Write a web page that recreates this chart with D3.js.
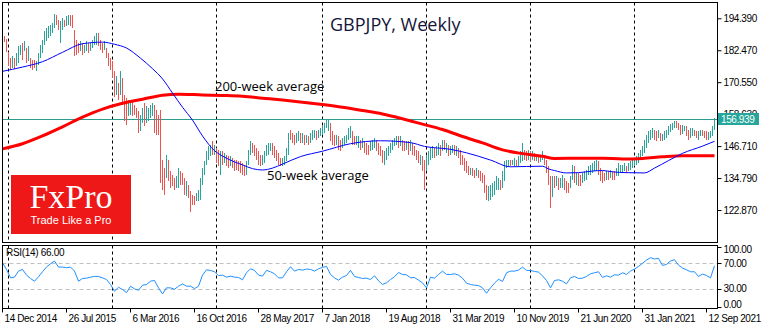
<!DOCTYPE html>
<html><head><meta charset="utf-8">
<script src="https://cdn.jsdelivr.net/npm/d3@7"></script>
<style>
html,body{margin:0;padding:0;background:#fff;}
svg{display:block;}
</style></head>
<body>
<svg id="c" width="770" height="330"></svg>
<script>
// ---------------- DATA ----------------
const title = "GBPJPY, Weekly";
const xLabels = ["14 Dec 2014","26 Jul 2015","6 Mar 2016","16 Oct 2016","28 May 2017","7 Jan 2018",
  "19 Aug 2018","31 Mar 2019","10 Nov 2019","21 Jun 2020","31 Jan 2021","12 Sep 2021"];
const xLabelIdx = [0,32,64,96,128,160,192,224,256,288,320,352];   // week index of each label
const yearStartIdx = [3,55,107,160,212,264,316];                    // first week of 2015..2021
const priceTicks = [194.390,182.470,170.550,158.630,146.710,134.790,122.870];
const rsiTicks = [100,70,30,0];
const rsiLevels = [70,30];
const lastPrice = 156.939;
const lastRsi = 66.00;

// weekly bars, one per week starting 14 Dec 2014
const high = [
 188.8,187.9,186.5,182.0,179.6,180.2,179.6,181.4,183.9,184.5,
 185.2,185.8,183.3,183.9,179.6,178.9,178.9,178.3,181.4,184.5,
 186.4,189.5,190.8,191.4,192.0,192.6,196.0,195.7,193.9,193.3,
 194.5,193.9,195.1,195.5,195.5,195.5,190.0,186.4,185.2,185.8,
 185.2,184.5,185.8,185.2,185.2,186.4,187.7,188.9,188.9,186.4,
 185.2,185.8,183.3,181.4,179.6,178.3,174.6,172.7,170.2,174.6,
 172.1,165.9,164.6,164.0,163.4,163.4,162.2,160.9,159.7,158.4,
 160.9,162.8,161.5,160.9,162.2,162.8,162.2,160.3,158.4,160.3,
 141.6,138.5,143.5,141.6,137.3,136.0,134.8,135.4,138.5,137.3,
 136.7,134.8,133.6,132.3,130.0,128.6,128.0,129.2,130.4,134.8,
 138.5,141.0,144.7,146.6,147.2,148.5,147.2,146.0,145.4,144.7,
 144.7,144.1,143.5,142.9,142.9,142.3,141.6,141.6,141.0,141.0,
 140.4,139.8,141.0,145.4,148.5,147.8,147.2,146.0,144.7,143.5,
 143.5,144.7,147.2,147.8,147.8,147.8,146.6,145.4,144.1,142.3,
 142.3,142.9,146.0,151.6,152.8,151.6,150.9,151.6,152.2,151.6,
 151.6,150.9,150.9,150.3,151.6,152.8,152.8,152.2,152.8,153.5,
 154.1,155.3,156.6,156.6,155.3,152.2,150.9,150.9,150.3,149.1,
 149.7,150.3,150.9,153.5,154.1,152.2,150.3,150.3,150.3,149.1,
 149.7,148.5,147.8,147.2,148.5,149.1,149.7,149.1,147.8,146.6,
 145.4,144.7,146.0,146.6,147.8,149.1,149.7,150.3,150.3,150.3,
 149.1,148.5,148.5,148.5,149.1,147.8,146.6,145.4,144.7,143.5,
 142.9,141.6,143.5,144.7,146.0,146.6,146.0,146.6,147.8,147.2,
 149.1,149.1,147.8,147.2,146.6,147.2,147.2,146.6,146.0,145.4,
 143.5,142.3,141.0,139.2,138.5,138.5,137.9,138.5,137.9,137.3,
 136.7,136.0,132.3,131.7,132.3,132.9,133.6,135.4,134.8,134.2,
 137.3,141.0,141.6,141.6,141.6,141.6,142.3,141.6,142.9,144.7,
 147.8,145.4,144.7,145.4,144.7,144.7,144.1,143.5,142.9,143.5,
 144.7,143.5,141.6,139.2,135.4,135.4,135.4,135.4,134.8,134.8,
 136.0,134.8,133.6,132.9,135.4,139.8,139.2,136.7,136.7,136.0,
 136.7,137.3,137.9,139.2,139.8,140.4,141.0,141.6,141.0,138.5,
 137.3,136.7,137.3,137.3,137.9,137.3,137.3,138.5,140.4,139.8,
 139.8,140.4,139.2,140.4,141.0,141.6,142.3,142.9,144.1,145.4,
 146.6,149.1,150.9,152.2,152.8,153.5,152.8,152.2,152.8,151.6,
 151.2,152.2,152.8,154.1,154.9,155.3,156.2,155.9,155.3,154.7,
 154.7,154.1,154.1,152.8,153.5,153.5,152.8,152.5,152.5,152.8,
 152.8,152.5,152.2,152.0,152.5,154.1,157.2];
const low = [
 185.6,185.6,181.8,176.5,175.2,175.8,175.5,176.5,177.7,180.8,
 179.0,182.1,177.7,178.3,175.8,175.2,175.8,174.8,177.1,179.6,
 181.4,184.5,185.8,187.0,187.7,188.9,190.8,192.0,190.1,185.2,
 190.1,191.0,191.4,192.0,191.4,190.8,180.2,180.8,181.4,182.1,
 180.8,181.4,182.1,181.4,182.1,183.3,184.5,184.5,183.9,182.7,
 181.4,182.7,179.6,176.5,175.2,172.1,165.0,165.9,164.0,165.9,
 162.2,155.9,154.7,157.8,158.4,157.8,158.4,157.2,151.6,152.2,
 155.3,154.1,155.3,155.9,157.2,157.8,151.6,150.9,150.9,132.9,
 130.4,128.6,134.8,133.6,131.1,131.7,130.4,131.1,131.1,132.3,
 132.3,128.6,128.0,127.3,122.0,124.9,124.9,126.1,126.1,126.7,
 132.3,136.0,139.8,141.6,142.9,143.5,143.5,140.4,139.2,136.0,
 139.8,140.4,139.2,138.5,139.2,138.5,137.3,137.9,137.3,136.7,
 136.0,135.4,136.0,139.8,143.5,144.1,142.9,141.6,139.8,139.2,
 139.8,140.4,142.9,143.5,144.7,143.5,142.3,141.0,139.8,139.2,
 139.2,139.8,141.0,143.5,149.1,147.8,147.2,147.8,148.5,147.8,
 147.8,147.2,147.8,147.2,147.8,149.1,149.7,149.1,149.7,150.3,
 150.9,151.6,153.5,152.2,148.5,147.2,146.6,147.2,145.4,144.7,
 146.0,147.2,147.8,149.1,149.7,147.2,147.2,147.2,146.0,145.4,
 146.0,144.1,143.5,143.5,144.7,145.4,146.0,144.7,143.5,142.9,
 140.4,139.8,141.6,142.9,144.1,145.4,146.6,147.2,146.0,146.6,
 144.7,144.7,145.4,143.5,144.7,143.5,142.9,141.6,140.4,139.8,
 137.3,130.4,137.3,139.8,141.6,142.3,142.3,142.9,143.5,142.9,
 144.7,145.4,144.1,142.9,143.5,144.1,143.5,142.9,142.3,139.8,
 139.8,137.3,136.7,136.0,136.0,135.4,134.8,135.4,134.8,133.6,
 132.9,129.2,126.7,126.3,126.7,127.9,128.6,130.4,130.4,130.4,
 131.1,133.6,138.5,139.2,139.2,139.8,139.2,139.2,139.2,140.4,
 141.0,141.6,141.0,141.6,141.0,141.6,141.0,141.0,140.4,140.8,
 141.6,139.8,136.7,132.3,123.6,127.9,131.1,131.7,130.4,131.1,
 131.1,130.4,129.2,129.2,131.1,134.2,132.9,132.3,131.7,131.7,
 132.9,133.6,134.2,136.0,136.0,136.7,137.3,137.3,136.0,133.6,
 132.9,133.6,134.2,134.2,134.8,134.2,134.2,135.4,135.4,136.7,
 136.7,137.3,136.7,137.3,137.9,138.5,139.2,139.8,140.4,141.6,
 142.9,144.1,146.0,147.8,149.1,149.7,149.1,148.5,149.7,148.5,
 148.5,149.1,149.7,150.9,151.9,152.8,153.5,153.5,152.8,150.9,
 151.2,152.2,150.3,149.1,149.7,150.3,150.3,149.7,149.1,150.3,
 150.3,149.7,149.1,149.1,149.7,150.3,152.8];
// u = up week (close above open), d = down week
const barDir = ("udddduduuu dududdduuu uuuuuuuddu uduudddddu duuduuuudd dudddddudu ddduuddddu uduuuudddd " +
  "ddudddduud ddudddduuu uuuuududdu dudduddddd dduuuddddd uuuuuddddd uuuuddduud ududuuuduu " +
  "uuuudddudd uuuuudduud uddduuuddd duuuuuuudu ddududdddu dduuuuduud ududuududd dddduddudd " +
  "ddduuuuuud uuuuduuduu uddudududu uddddududu uddduududd uuuuuuuudd ddududduuu uuduuuuuuu " +
  "uuuuuuddud uuuuuuuddd uudduudduu ddduuuu").replace(/ /g,"");

// 50-week moving average (week index, value)
const ma50Idx = [0,10,20,30,40,50,56,62,69,75,80,85,90,95,100,106,110,116,120,125,130,135,140,149,160,174,
  189,204,211,224,232,244,254,262,270,273,276,282,288,295,300,305,312,321,326,333,340,350,356];
const ma50 = [174.6,176.2,178.2,181.7,184.9,185.5,184.7,183.3,179.5,175.6,171.8,166.5,161.2,156.4,150.5,145.0,
  143.0,140.8,139.7,138.3,137.8,138.5,140.0,142.8,144.8,147.6,148.7,148.0,146.6,145.5,144.2,141.5,139.0,139.1,
  139.2,138.2,137.6,136.7,136.8,137.4,137.6,137.1,136.8,136.7,138.5,141.3,144.0,146.7,148.5];
// 200-week moving average
const ma200Idx = [0,10,20,30,40,50,60,70,80,88,100,110,120,130,140,150,160,170,180,190,200,210,220,230,240,
  250,260,270,276,290,300,310,320,330,340,356];
const ma200 = [145.7,147.6,150.5,153.9,157.5,160.5,162.7,164.2,165.7,166.1,165.8,165.6,165.3,164.6,163.9,163.1,
  162.2,161.2,160.0,158.7,156.9,154.9,152.9,150.3,147.9,145.3,143.9,142.9,142.1,142.2,142.2,141.9,142.1,142.7,
  143.1,143.1];
// RSI(14), one reading every second week
const rsi = [
 70.9,60.4,47.1,48.2,57.7,60.4,51.4,46.1,41.8,48.8,
 56.7,64.1,69.3,73.6,64.1,64.1,63.0,64.1,57.7,41.8,
 46.1,46.6,48.2,49.3,49.3,47.1,44.5,36.6,26.0,32.3,
 28.6,23.8,33.9,29.7,27.5,35.5,36.6,41.8,42.9,31.3,
 21.7,31.3,31.3,29.1,33.9,37.6,33.9,33.9,30.2,33.9,
 51.4,59.8,58.8,56.7,50.8,51.4,48.2,49.8,48.2,47.7,
 44.0,55.1,61.4,58.8,51.4,49.8,58.8,56.7,53.5,47.1,
 47.1,56.7,64.6,57.7,60.4,59.3,60.9,60.4,57.7,61.4,
 63.5,65.1,52.4,47.1,43.4,48.2,50.8,58.8,49.3,47.7,
 46.1,46.6,44.5,50.3,42.4,36.6,39.2,44.5,48.8,55.6,
 52.4,51.9,47.1,47.7,43.4,39.2,31.3,48.2,46.6,52.4,
 57.7,52.4,52.4,53.5,51.4,46.6,38.7,36.6,35.5,35.0,
 31.3,22.8,31.3,38.7,45.0,41.3,55.1,57.7,57.7,59.3,
 64.1,58.8,58.8,57.2,56.1,50.3,42.9,31.3,42.9,44.0,
 41.8,37.6,47.1,49.3,46.1,46.6,49.3,53.5,55.1,56.7,
 47.7,50.3,48.2,51.9,51.4,55.1,52.4,57.7,60.9,65.1,
 69.9,75.2,78.9,76.8,77.8,66.7,68.3,73.6,75.7,67.2,
 62.5,59.8,56.7,56.7,49.3,53.0,50.8,47.1,66.0];

// ---------------- DRAW ----------------
const svg = d3.select("#c");
const upCol = "#26a69a", dnCol = "#ef5350";
const P = {l:2.5, r:717.5, t:2.5, b:242.5, rt:245.5, rb:308.5};

const x = d3.scaleLinear().domain([0, 356]).range([2, 714]);
const y = d3.scaleLinear().domain([122.87, 194.39]).range([210, 18.3]);
const yr = d3.scaleLinear().domain([0, 100]).range([307.7, 244.3]);
const px = i => Math.round(x(i)) + 0.5;

svg.append("rect").attr("width",770).attr("height",330).attr("fill","#fff");

const defs = svg.append("defs");
defs.append("clipPath").attr("id","cm").append("rect")
  .attr("x",P.l+0.5).attr("y",P.t+0.5).attr("width",P.r-P.l-1).attr("height",P.b-P.t-1);
defs.append("clipPath").attr("id","cr").append("rect")
  .attr("x",P.l+0.5).attr("y",P.rt+0.5).attr("width",P.r-P.l-1).attr("height",P.rb-P.rt-1);

const gm = svg.append("g").attr("clip-path","url(#cm)");
const gr = svg.append("g").attr("clip-path","url(#cr)");

// year separators
yearStartIdx.forEach(i => {
  [[gm,P.t,P.b],[gr,P.rt,P.rb]].forEach(([g,a,b]) => {
    g.append("line").attr("x1",px(i)).attr("x2",px(i)).attr("y1",a).attr("y2",b)
      .attr("stroke","#000").attr("stroke-width",1).attr("stroke-dasharray","3,3");
  });
});

// title
gm.append("text").attr("x",330).attr("y",31).text(title)
  .attr("font-family","'Open Sans', sans-serif").attr("font-size",18).attr("fill","#15153a");

// current price line
gm.append("line").attr("x1",P.l).attr("x2",P.r)
  .attr("y1",Math.round(y(lastPrice))+0.5).attr("y2",Math.round(y(lastPrice))+0.5)
  .attr("stroke","#2a9d8f").attr("stroke-width",1);

// bars
const bars = d3.range(high.length).map(i => ({i, h:high[i], l:low[i], up:(barDir[i]||"u")==="u"}));
gm.append("g").selectAll("line").data(bars).join("line")
  .attr("x1",d=>px(d.i)).attr("x2",d=>px(d.i))
  .attr("y1",d=>y(d.h)).attr("y2",d=>y(d.l))
  .attr("stroke",d=>d.up?upCol:dnCol).attr("stroke-width",1).attr("shape-rendering","crispEdges");

// moving averages
const lineGen = d3.line().x(d=>x(d[0])+0.5).y(d=>y(d[1])).curve(d3.curveMonotoneX);
gm.append("path").datum(ma200Idx.map((d,k)=>[d,ma200[k]])).attr("d",lineGen)
  .attr("fill","none").attr("stroke","#ff0000").attr("stroke-width",3);
gm.append("path").datum(ma50Idx.map((d,k)=>[d,ma50[k]])).attr("d",lineGen)
  .attr("fill","none").attr("stroke","#0000ff").attr("stroke-width",1);

// annotations
gm.append("text").attr("x",215).attr("y",91).text("200-week average")
  .attr("font-family","'Open Sans', sans-serif").attr("font-size",13).attr("fill","#000");
gm.append("text").attr("x",267).attr("y",180).text("50-week average")
  .attr("font-family","'Open Sans', sans-serif").attr("font-size",13).attr("fill","#000");

// FxPro logo
const logo = svg.append("g");
logo.append("rect").attr("x",11).attr("y",175).attr("width",120).attr("height",59).attr("fill","#ee1818");
logo.append("text").attr("x",71).attr("y",208).attr("text-anchor","middle").text("FxPro")
  .attr("font-family","'Liberation Serif', serif").attr("font-size",34).attr("fill","#fff");
logo.append("text").attr("x",71).attr("y",223.5).attr("text-anchor","middle").text("Trade Like a Pro")
  .attr("font-family","'Liberation Sans', Arial, sans-serif").attr("font-size",11).attr("fill","#fff");

// RSI panel
rsiLevels.forEach(v => {
  gr.append("line").attr("x1",P.l).attr("x2",P.r)
    .attr("y1",Math.round(yr(v))+0.5).attr("y2",Math.round(yr(v))+0.5)
    .attr("stroke","#c0c0c0").attr("stroke-dasharray","4,3");
});
const rsiPts = rsi.map((v,k)=>[k*2, v]);
gr.append("path").datum(rsiPts)
  .attr("d", d3.line().x(d=>x(d[0])+0.5).y(d=>yr(d[1])))
  .attr("fill","none").attr("stroke","#1e90ff").attr("stroke-width",1);
svg.append("text").attr("x",6).attr("y",256).text("RSI(14) " + lastRsi.toFixed(2))
  .attr("font-family","'Liberation Sans', Arial, sans-serif").attr("font-size",10)
  .attr("letter-spacing","-0.3px").attr("fill","#000");

// panel borders
[[P.t,P.b],[P.rt,P.rb]].forEach(([a,b]) => {
  svg.append("rect").attr("x",P.l).attr("y",a).attr("width",P.r-P.l).attr("height",b-a)
    .attr("fill","none").attr("stroke","#000").attr("stroke-width",1);
});

// price axis
const fontAx = "'Liberation Sans', Arial, sans-serif";
const ya = svg.append("g").attr("transform",`translate(${P.r},0)`)
  .call(d3.axisRight(y).tickValues(priceTicks).tickSize(4).tickPadding(2).tickFormat(d3.format(".3f")));
ya.select(".domain").remove();
ya.selectAll(".tick line").attr("stroke","#000");
ya.selectAll("text").attr("font-family",fontAx).attr("font-size",10).attr("letter-spacing","-0.4px").attr("fill","#000");

// last price box
const lpY = Math.round(y(lastPrice));
svg.append("rect").attr("x",718).attr("y",lpY-6).attr("width",41).attr("height",12).attr("fill","#26a69a");
svg.append("text").attr("x",721).attr("y",lpY+4).text(lastPrice.toFixed(3))
  .attr("font-family",fontAx).attr("font-size",10).attr("letter-spacing","-0.4px").attr("fill","#fff");

// RSI axis
const rg = svg.append("g");
rsiTicks.forEach(v => {
  const ty = Math.min(Math.max(yr(v), P.rt+1.5), P.rb-1.5);
  const ly = Math.min(Math.max(yr(v), 249), 304);
  rg.append("line").attr("x1",P.r).attr("x2",P.r+4).attr("y1",Math.round(ty)+0.5).attr("y2",Math.round(ty)+0.5).attr("stroke","#000");
  rg.append("text").attr("x",P.r+6).attr("y",ly).attr("dy","0.35em").text(v.toFixed(2))
    .attr("font-family",fontAx).attr("font-size",10).attr("letter-spacing","-0.4px").attr("fill","#000");
});

// time axis
const xa = svg.append("g").attr("transform",`translate(0,${P.rb})`)
  .call(d3.axisBottom(x).tickValues(xLabelIdx).tickSize(4).tickPadding(2).tickFormat((d,k)=>xLabels[k]));
xa.select(".domain").remove();
xa.selectAll(".tick").attr("transform", d => `translate(${px(d)},0)`);
xa.selectAll(".tick line").attr("stroke","#000");
xa.selectAll("text").attr("text-anchor","start").attr("x",2)
  .attr("font-family",fontAx).attr("font-size",10).attr("letter-spacing","-0.4px").attr("fill","#000");
</script>
</body></html>
